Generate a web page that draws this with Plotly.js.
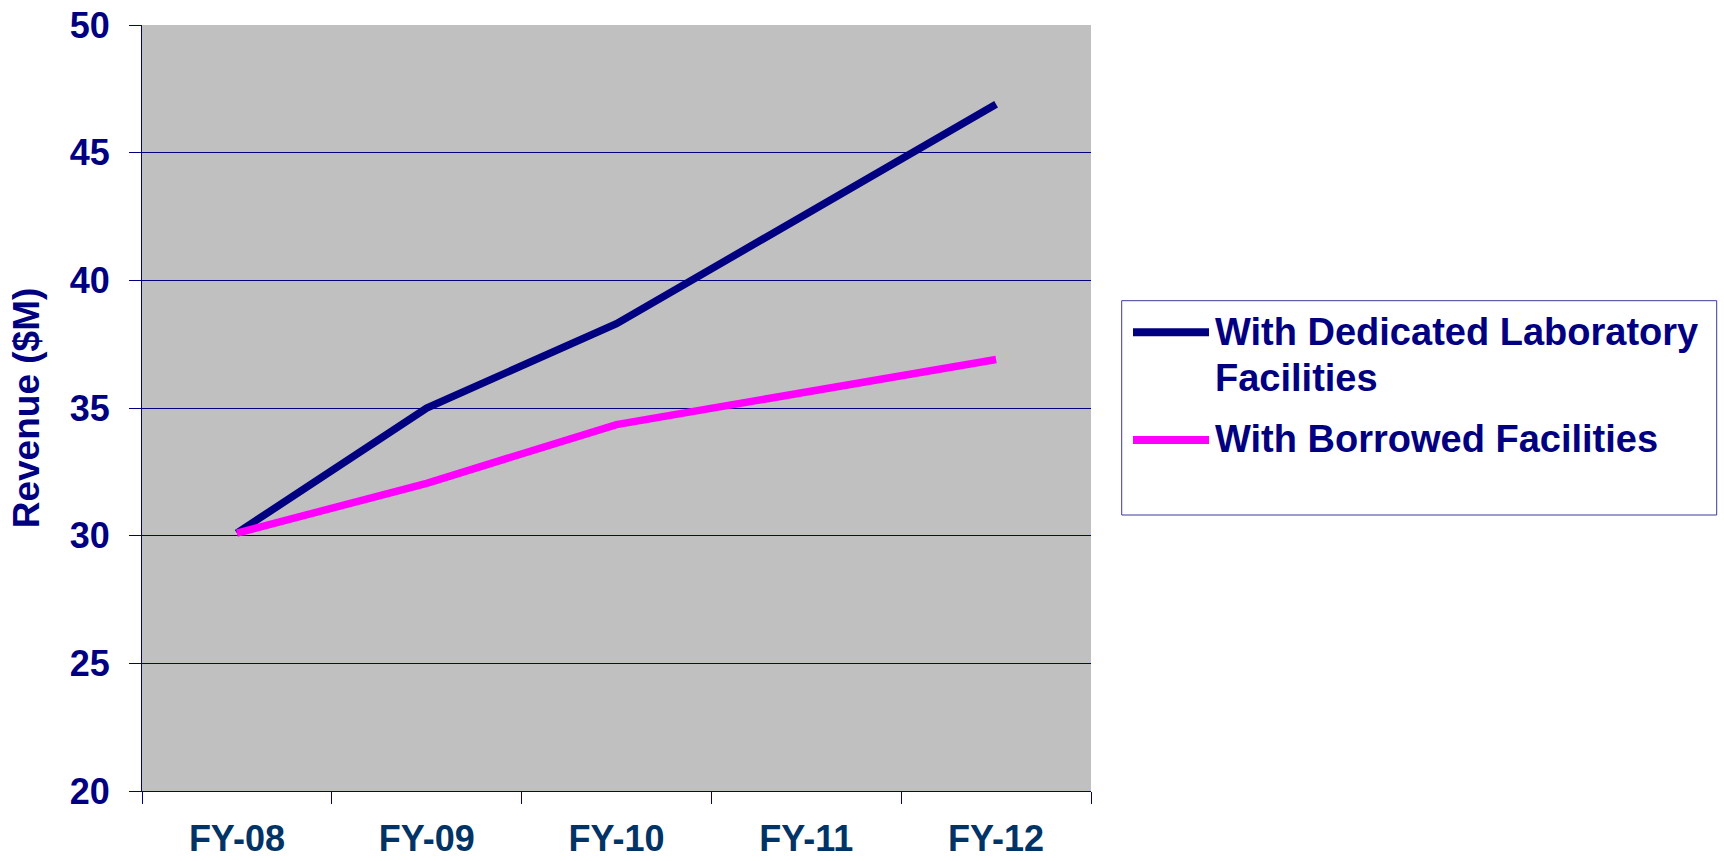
<!DOCTYPE html>
<html>
<head>
<meta charset="utf-8">
<script src="https://cdn.plot.ly/plotly-3.0.1.min.js"></script>
<style>html,body{margin:0;padding:0;background:#fff;}#chart{width:1724px;height:861px;}</style>
</head>
<body>
<div id="chart"></div>
<script>
const categories = ["FY-08", "FY-09", "FY-10", "FY-11", "FY-12"];
const seriesNames = ["With Dedicated Laboratory Facilities", "With Borrowed Facilities"];
const legendLines = [["With Dedicated Laboratory", "Facilities"], ["With Borrowed Facilities"]];
const dedicatedValues = [30.1, 35.0, 38.3, 42.6, 46.9];
const borrowedValues = [30.1, 32.05, 34.35, 35.6, 36.9];
const yTickValues = [20, 25, 30, 35, 40, 45, 50];
const seriesColors = ['#000080', '#FF00FF'];

const FONT = '"Liberation Sans", Arial, sans-serif';
const NAVY = '#000080';

// plot-area geometry in pixels (margins) and helpers to convert to paper coords
const W = 1724, H = 861;
const M = {l: 142, r: 633, t: 25, b: 70};
const pw = W - M.l - M.r, ph = H - M.t - M.b;
const px = x => (x - M.l) / pw;
const py = y => (H - M.b - y) / ph;

const traces = [
  {x: categories, y: dedicatedValues, name: seriesNames[0], type: 'scatter', mode: 'lines',
   line: {color: seriesColors[0], width: 7.5}},
  {x: categories, y: borrowedValues, name: seriesNames[1], type: 'scatter', mode: 'lines',
   line: {color: seriesColors[1], width: 7.5}}
];

// legend drawn by hand to match the reference box
const legendFont = {family: FONT, size: 38, color: NAVY, weight: 'bold'};
const textX = px(1213);
const annotations = [
  {text: legendLines[0][0], x: textX, y: py(331.5)},
  {text: legendLines[0][1], x: textX, y: py(377.5)},
  {text: legendLines[1][0], x: textX, y: py(438.5)}
].map(a => Object.assign(a, {xref: 'paper', yref: 'paper', xanchor: 'left', yanchor: 'middle',
  showarrow: false, font: legendFont, align: 'left'}));

const shapes = [
  {type: 'rect', xref: 'paper', yref: 'paper', x0: px(1121.7), x1: px(1716.7), y0: py(515), y1: py(300.7),
   line: {color: '#3a3a9a', width: 1}, fillcolor: 'rgba(0,0,0,0)'},
  {type: 'line', xref: 'paper', yref: 'paper', x0: px(1133), x1: px(1209), y0: py(332.3), y1: py(332.3),
   line: {color: seriesColors[0], width: 8}},
  {type: 'line', xref: 'paper', yref: 'paper', x0: px(1133), x1: px(1209), y0: py(440), y1: py(440),
   line: {color: seriesColors[1], width: 8}}
];

const layout = {
  width: W, height: H,
  margin: M,
  paper_bgcolor: '#ffffff',
  plot_bgcolor: '#C0C0C0',
  showlegend: false,
  font: {family: FONT, color: NAVY},
  xaxis: {
    type: 'category',
    range: [-0.5, 4.5],
    tickson: 'boundaries',
    ticks: 'outside', ticklen: 12, tickcolor: NAVY, tickwidth: 1,
    showline: true, linecolor: NAVY, linewidth: 1,
    showgrid: false, zeroline: false,
    ticklabelstandoff: 16,
    tickfont: {family: FONT, size: 36, color: '#003366', weight: 'bold'}
  },
  yaxis: {
    range: [20, 50],
    tickvals: yTickValues,
    ticktext: yTickValues.map(String),
    ticks: 'outside', ticklen: 12, tickcolor: NAVY, tickwidth: 1,
    showline: true, linecolor: NAVY, linewidth: 1,
    showgrid: true, gridcolor: NAVY, gridwidth: 1,
    zeroline: false,
    ticklabelstandoff: 12,
    tickfont: {family: FONT, size: 36, color: NAVY, weight: 'bold'},
    title: {text: 'Revenue ($M)', standoff: 18,
            font: {family: FONT, size: 37, color: NAVY, weight: 'bold'}}
  },
  annotations: annotations,
  shapes: shapes
};

Plotly.newPlot('chart', traces, layout, {displayModeBar: false, staticPlot: true});
</script>
</body>
</html>
